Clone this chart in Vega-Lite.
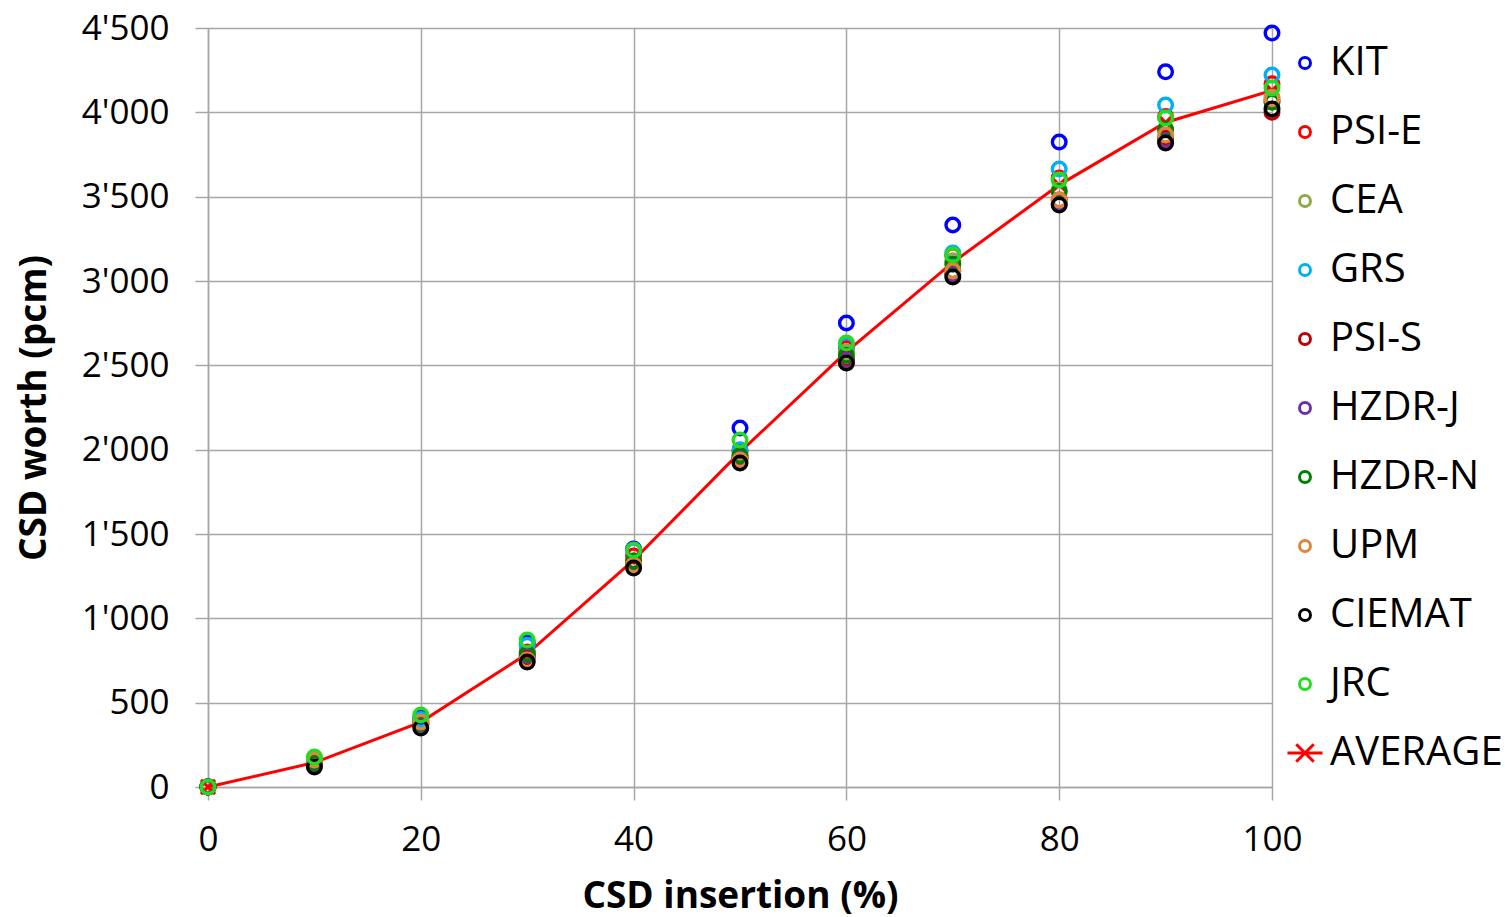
{
  "$schema": "https://vega.github.io/schema/vega-lite/v6.json",
  "width": 1064,
  "height": 759,
  "autosize": {"type": "none"},
  "padding": {"left": 208, "top": 28, "right": 233, "bottom": 130},
  "background": "white",
  "config": {
    "font": "Open Sans",
    "view": {"stroke": null},
    "axis": {
      "labelFont": "Open Sans",
      "labelFontSize": 35,
      "labelColor": "#000000",
      "titleFont": "Open Sans",
      "titleFontSize": 37,
      "titleFontWeight": "bold",
      "titleColor": "#000000",
      "gridColor": "#A6A6A6",
      "gridWidth": 1.5,
      "domainColor": "#A6A6A6",
      "domainWidth": 1.5,
      "tickColor": "#A6A6A6",
      "tickWidth": 1.5,
      "tickSize": 13
    }
  },
  "data": {
    "values": [
      {"x": 0, "AVERAGE": 0, "KIT": 0, "PSI-E": 0, "CEA": 0, "GRS": 0, "PSI-S": 0, "HZDR-J": 0, "HZDR-N": 0, "UPM": 0, "CIEMAT": 0, "JRC": 0},
      {"x": 10, "AVERAGE": 145, "KIT": 150, "PSI-E": 160, "CEA": 160, "GRS": 150, "PSI-S": 140, "HZDR-J": 140, "HZDR-N": 145, "UPM": 160, "CIEMAT": 119, "JRC": 178},
      {"x": 20, "AVERAGE": 385, "KIT": 410, "PSI-E": 390, "CEA": 390, "GRS": 400, "PSI-S": 375, "HZDR-J": 370, "HZDR-N": 380, "UPM": 385, "CIEMAT": 350, "JRC": 427},
      {"x": 30, "AVERAGE": 790, "KIT": 854, "PSI-E": 800, "CEA": 790, "GRS": 840, "PSI-S": 770, "HZDR-J": 780, "HZDR-N": 790, "UPM": 753, "CIEMAT": 741, "JRC": 871},
      {"x": 40, "AVERAGE": 1345, "KIT": 1411, "PSI-E": 1370, "CEA": 1340, "GRS": 1400, "PSI-S": 1320, "HZDR-J": 1320, "HZDR-N": 1340, "UPM": 1316, "CIEMAT": 1298, "JRC": 1405},
      {"x": 50, "AVERAGE": 1985, "KIT": 2128, "PSI-E": 1990, "CEA": 1975, "GRS": 2000, "PSI-S": 1950, "HZDR-J": 1950, "HZDR-N": 1965, "UPM": 1939, "CIEMAT": 1921, "JRC": 2057},
      {"x": 60, "AVERAGE": 2580, "KIT": 2751, "PSI-E": 2600, "CEA": 2580, "GRS": 2620, "PSI-S": 2540, "HZDR-J": 2530, "HZDR-N": 2560, "UPM": 2514, "CIEMAT": 2514, "JRC": 2632},
      {"x": 70, "AVERAGE": 3110, "KIT": 3332, "PSI-E": 3150, "CEA": 3120, "GRS": 3166, "PSI-S": 3060, "HZDR-J": 3040, "HZDR-N": 3100, "UPM": 3060, "CIEMAT": 3024, "JRC": 3154},
      {"x": 80, "AVERAGE": 3570, "KIT": 3824, "PSI-E": 3610, "CEA": 3540, "GRS": 3664, "PSI-S": 3480, "HZDR-J": 3460, "HZDR-N": 3530, "UPM": 3480, "CIEMAT": 3450, "JRC": 3599},
      {"x": 90, "AVERAGE": 3940, "KIT": 4240, "PSI-E": 3975, "CEA": 3895, "GRS": 4043, "PSI-S": 3850, "HZDR-J": 3835, "HZDR-N": 3900, "UPM": 3865, "CIEMAT": 3818, "JRC": 3966},
      {"x": 100, "AVERAGE": 4130, "KIT": 4470, "PSI-E": 4170, "CEA": 4090, "GRS": 4221, "PSI-S": 4000, "HZDR-J": 4070, "HZDR-N": 4060, "UPM": 4080, "CIEMAT": 4020, "JRC": 4144}
    ]
  },
  "transform": [
    {"fold": ["AVERAGE", "KIT", "PSI-E", "CEA", "GRS", "PSI-S", "HZDR-J", "HZDR-N", "UPM", "CIEMAT", "JRC"], "as": ["series", "worth"]}
  ],
  "encoding": {
    "x": {
      "field": "x",
      "type": "quantitative",
      "scale": {"domain": [0, 100], "nice": false, "zero": false},
      "axis": {
        "title": "CSD insertion (%)",
        "values": [0, 20, 40, 60, 80, 100],
        "labelPadding": 22,
        "titlePadding": 21,
        "labelFlush": false
      }
    },
    "y": {
      "field": "worth",
      "type": "quantitative",
      "scale": {"domain": [0, 4500], "nice": false},
      "axis": {
        "title": "CSD worth (pcm)",
        "values": [0, 500, 1000, 1500, 2000, 2500, 3000, 3500, 4000, 4500],
        "labelExpr": "replace(format(datum.value, ','), ',', \"'\")",
        "labelPadding": 26,
        "titlePadding": 28,
        "labelFlush": false
      }
    }
  },
  "layer": [
    {
      "transform": [{"filter": "datum.series === 'AVERAGE'"}],
      "mark": {"type": "point", "shape": "M-1,-1L1,1M-1,1L1,-1", "color": "#FF0000", "filled": false, "strokeWidth": 3, "size": 200, "opacity": 1}
    },
    {
      "transform": [{"filter": "datum.series === 'AVERAGE'"}],
      "mark": {"type": "line", "color": "#FF0000", "strokeWidth": 3}
    },
    {
      "transform": [{"filter": "datum.series !== 'AVERAGE'"}],
      "mark": {"type": "point", "filled": false, "strokeWidth": 3.4, "opacity": 1, "size": 185},
      "encoding": {
        "color": {
          "field": "series",
          "type": "nominal",
          "scale": {
            "domain": ["KIT", "PSI-E", "CEA", "GRS", "PSI-S", "HZDR-J", "HZDR-N", "UPM", "CIEMAT", "JRC", "AVERAGE"],
            "range": ["#0000FF", "#FF0000", "#8FA84E", "#00B0F0", "#C00000", "#7030A0", "#008000", "#E0863A", "#000000", "#22DD22", "#FF0000"]
          },
          "legend": {
            "title": null,
            "orient": "none",
            "legendX": 1077,
            "legendY": 15,
            "labelFont": "Open Sans",
            "labelFontSize": 40,
            "labelColor": "#000000",
            "labelLimit": 0,
            "symbolSize": 120,
            "symbolStrokeWidth": 3,
            "labelOffset": 5,
            "rowPadding": 29,
            "padding": 0
          }
        },
        "shape": {
          "field": "series",
          "type": "nominal",
          "scale": {
            "domain": ["KIT", "PSI-E", "CEA", "GRS", "PSI-S", "HZDR-J", "HZDR-N", "UPM", "CIEMAT", "JRC", "AVERAGE"],
            "range": ["circle", "circle", "circle", "circle", "circle", "circle", "circle", "circle", "circle", "circle", "M-3.2,0L3.2,0M-1.6,-1.6L1.6,1.6M-1.6,1.6L1.6,-1.6"]
          },
          "legend": {
            "title": null,
            "orient": "none",
            "legendX": 1077,
            "legendY": 15,
            "labelFont": "Open Sans",
            "labelFontSize": 40,
            "labelColor": "#000000",
            "labelLimit": 0,
            "symbolSize": 120,
            "symbolStrokeWidth": 3,
            "labelOffset": 5,
            "rowPadding": 29,
            "padding": 0
          }
        }
      }
    }
  ]
}
